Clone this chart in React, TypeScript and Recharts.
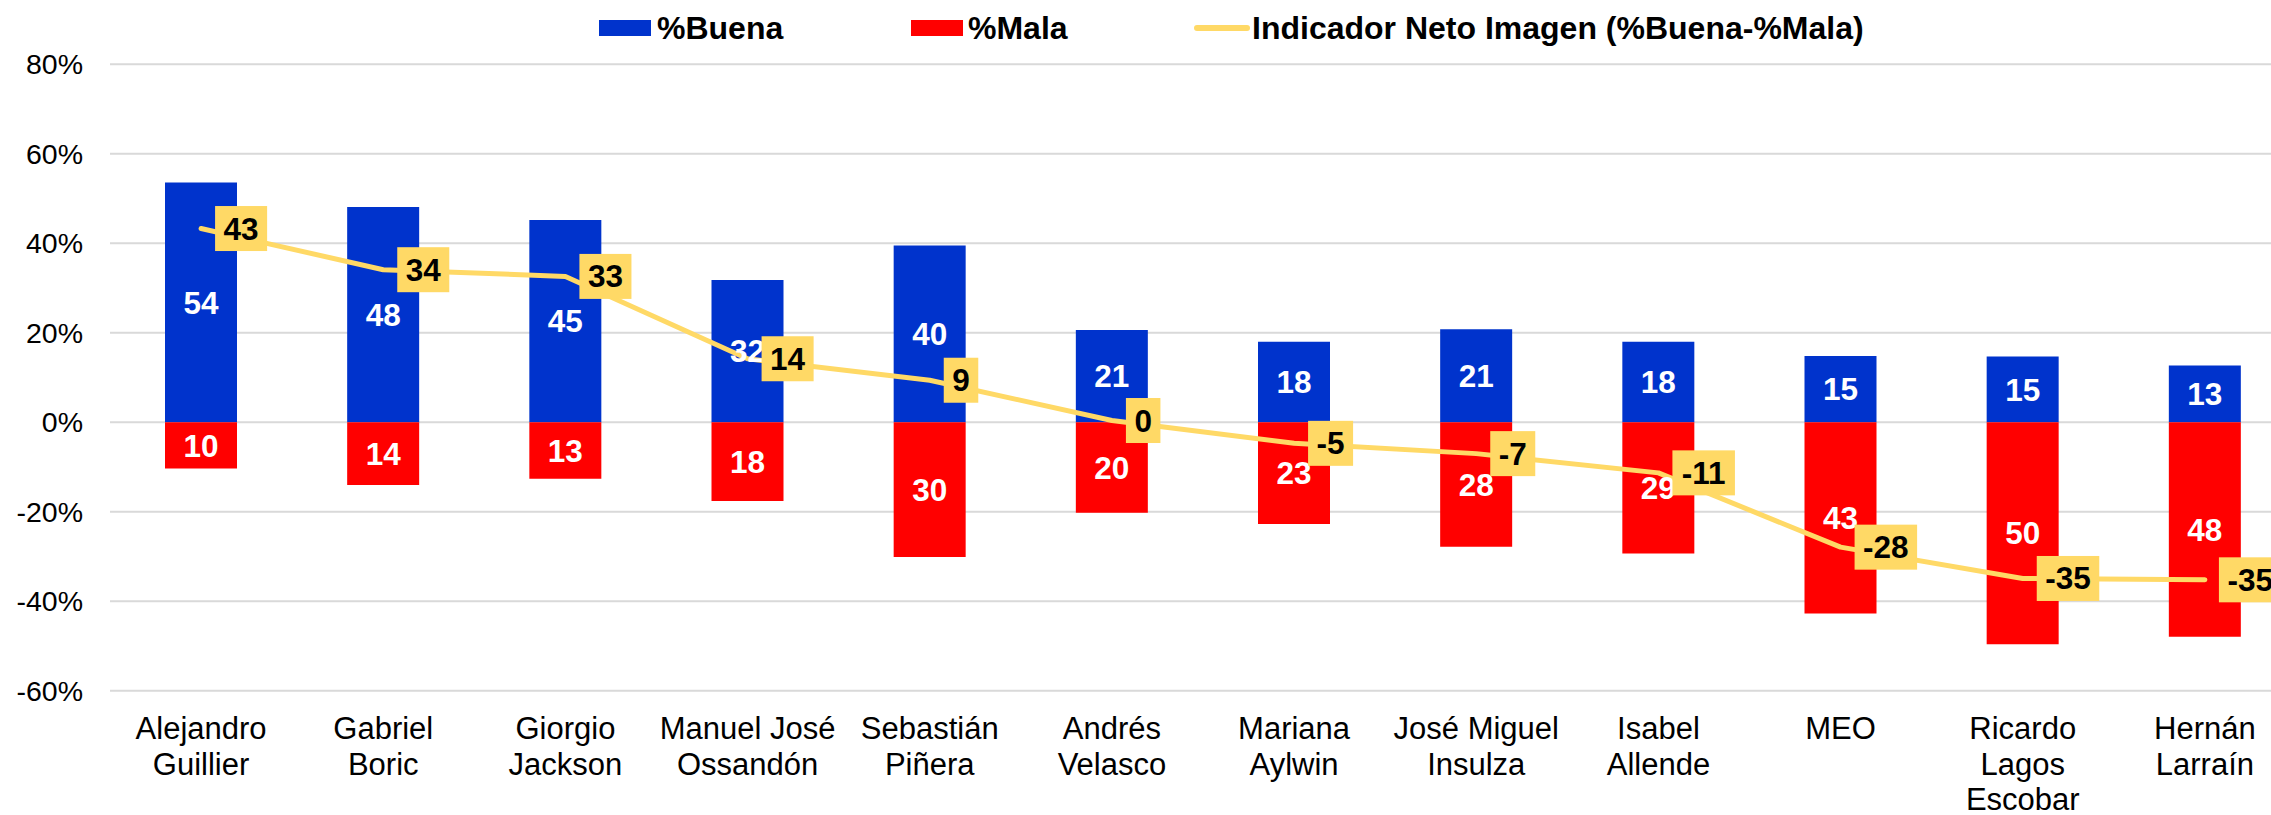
import React from 'react';
import { ComposedChart, Bar, Line, XAxis, YAxis, CartesianGrid, Legend, LabelList } from 'recharts';

const categories = [
  'Alejandro\nGuillier',
  'Gabriel\nBoric',
  'Giorgio\nJackson',
  'Manuel José\nOssandón',
  'Sebastián\nPiñera',
  'Andrés\nVelasco',
  'Mariana\nAylwin',
  'José Miguel\nInsulza',
  'Isabel\nAllende',
  'MEO',
  'Ricardo\nLagos\nEscobar',
  'Hernán\nLarraín',
];
const buenaValues = [53.6, 48.1, 45.2, 31.8, 39.5, 20.6, 18.0, 20.8, 18.0, 14.8, 14.7, 12.7];
const malaValues = [10.3, 14.0, 12.6, 17.6, 30.1, 20.2, 22.7, 27.8, 29.3, 42.7, 49.6, 47.9];
const netValues = [43.3, 34.1, 32.6, 14.2, 9.4, 0.4, -4.7, -7.0, -11.3, -27.9, -34.9, -35.2];
const yTicks = [-60, -40, -20, 0, 20, 40, 60, 80];

const seriesNames = ['%Buena', '%Mala', 'Indicador Neto Imagen (%Buena-%Mala)'];

const BLUE = '#0033CC';
const RED = '#FF0000';
const GOLD = '#FFD966';
const FONT = '"Liberation Sans", Arial, sans-serif';

const data = categories.map((name, i) => ({
  name,
  buena: buenaValues[i],
  mala: -malaValues[i],
  net: netValues[i],
  buenaLabel: String(Math.round(buenaValues[i])),
  malaLabel: String(Math.round(malaValues[i])),
  netLabel: String(Math.round(netValues[i])),
}));

const CategoryTick = (props: any) => {
  const { x, y, payload } = props;
  const lines = String(payload.value).split('\n');
  return (
    <text x={x} y={y} textAnchor="middle" fill="#000" fontFamily={FONT} fontSize={31}>
      {lines.map((l, i) => (
        <tspan key={i} x={x} y={y + 48.5 + i * 35.5}>
          {l}
        </tspan>
      ))}
    </text>
  );
};

const NetLabel = (props: any) => {
  const { x, y, value } = props;
  if (x == null || y == null) return null;
  const s = String(value);
  const fs = 31.5;
  let w = 0;
  for (const ch of s) w += ch === '-' ? 0.333 * fs : 0.556 * fs;
  const bw = w + 17;
  const bx = x + 14;
  return (
    <g>
      <rect x={bx} y={y - 22.5} width={bw} height={45} fill={GOLD} />
      <text
        x={bx + bw / 2}
        y={y + 11}
        textAnchor="middle"
        fill="#000"
        fontFamily={FONT}
        fontWeight="bold"
        fontSize={fs}
      >
        {s}
      </text>
    </g>
  );
};

const renderLegend = () => (
  <svg width={2296} height={56} style={{ display: 'block' }}>
    <rect x={599} y={20} width={52} height={16} fill={BLUE} />
    <text x={657} y={38.5} fontFamily={FONT} fontWeight="bold" fontSize={32} fill="#000">
      {seriesNames[0]}
    </text>
    <rect x={911} y={20} width={52} height={16} fill={RED} />
    <text x={968} y={38.5} fontFamily={FONT} fontWeight="bold" fontSize={32} fill="#000">
      {seriesNames[1]}
    </text>
    <line x1={1197} y1={28} x2={1247} y2={28} stroke={GOLD} strokeWidth={6} strokeLinecap="round" />
    <text x={1252} y={38.5} fontFamily={FONT} fontWeight="bold" fontSize={32} fill="#000">
      {seriesNames[2]}
    </text>
  </svg>
);

export default function App() {
  return (
    <div
      style={{
        position: 'fixed',
        left: 0,
        top: 0,
        width: 2271,
        height: 815,
        overflow: 'hidden',
        background: '#fff',
      }}
    >
      <ComposedChart
        width={2296}
        height={815}
        data={data}
        stackOffset="sign"
        margin={{ top: 8.3, right: 0, bottom: 0, left: 0 }}
      >
        <Legend
          verticalAlign="top"
          height={56}
          wrapperStyle={{ top: 0, left: 0 }}
          content={renderLegend}
        />
        <CartesianGrid vertical={false} stroke="#D9D9D9" strokeWidth={2} />
        <XAxis
          dataKey="name"
          axisLine={false}
          tickLine={false}
          tickSize={0}
          tickMargin={0}
          interval={0}
          height={124.2}
          tick={<CategoryTick />}
        />
        <YAxis
          domain={[-60, 80]}
          ticks={yTicks}
          axisLine={false}
          tickLine={false}
          tickSize={0}
          tickMargin={27}
          width={110}
          tickFormatter={(v: number) => `${v}%`}
          tick={{ fill: '#000', fontSize: 28.5, fontFamily: FONT }}
        />
        <Bar dataKey="buena" stackId="s" fill={BLUE} barSize={72} isAnimationActive={false}>
          <LabelList
            dataKey="buenaLabel"
            position="center"
            fill="#fff"
            fontFamily={FONT}
            fontWeight="bold"
            fontSize={31.5}
          />
        </Bar>
        <Bar dataKey="mala" stackId="s" fill={RED} barSize={72} isAnimationActive={false}>
          <LabelList
            dataKey="malaLabel"
            position="center"
            fill="#fff"
            fontFamily={FONT}
            fontWeight="bold"
            fontSize={31.5}
          />
        </Bar>
        <Line
          type="linear"
          dataKey="net"
          stroke={GOLD}
          strokeWidth={5}
          strokeLinecap="round"
          strokeLinejoin="round"
          dot={false}
          activeDot={false}
          isAnimationActive={false}
        >
          <LabelList dataKey="netLabel" content={<NetLabel />} />
        </Line>
      </ComposedChart>
    </div>
  );
}
